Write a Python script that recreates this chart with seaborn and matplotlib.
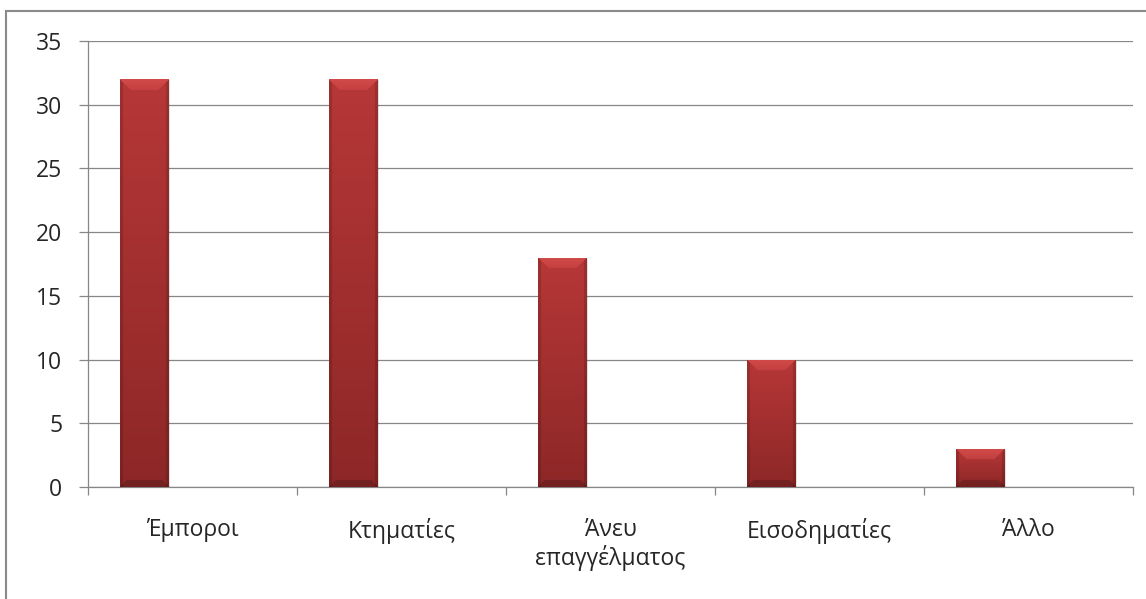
import numpy as np
import pandas as pd
import matplotlib
matplotlib.use("Agg")
import matplotlib.pyplot as plt
import seaborn as sns
from matplotlib.colors import to_rgb
from matplotlib.patches import Rectangle

# Chart data
categories = ["Έμποροι", "Κτηματίες", "Άνευ\nεπαγγέλματος", "Εισοδηματίες", "Άλλο"]
values = [32, 32, 18, 10, 3]
# Excel left room for three series per category, only the first one holds data
series = ["Σειρά 1", "Σειρά 2", "Σειρά 3"]
y_ticks = [0, 5, 10, 15, 20, 25, 30, 35]

GRID = "#878787"
TEXT = "#262626"

df = pd.DataFrame({"category": categories, "value": values, "series": series[0]})

sns.set_theme(style="white")
plt.rcParams["font.family"] = ["Open Sans", "DejaVu Sans"]

fig = plt.figure(figsize=(11.46, 5.99), dpi=100)
ax = fig.add_axes([88 / 1146, 1 - 487 / 599, (1133 - 88) / 1146, (487 - 41) / 599])

sns.barplot(
    data=df, x="category", y="value", hue="series",
    order=categories, hue_order=series, palette=["#A83030"] * 3,
    width=0.69, dodge=True, legend=False, linewidth=0, ax=ax,
)

ax.set_xlim(-0.5, len(categories) - 0.5)
ax.set_ylim(y_ticks[0], y_ticks[-1])


def bar_image(n_rows, n_cols):
    """Excel-like bevelled fill for one bar, in pixel units."""
    top, bot = np.array(to_rgb("#B73737")), np.array(to_rgb("#8D2727"))
    t = np.linspace(0, 1, n_rows)[:, None, None]
    img = top * (1 - t) + bot * t
    img = np.repeat(img, n_cols, axis=1)
    rows = np.arange(n_rows)[:, None]
    cols = np.arange(n_cols)[None, :]
    edge = np.minimum(cols, n_cols - 1 - cols)
    # light bevel on the top face
    bevel = (rows < 11) & (rows <= edge)
    shade = np.linspace(1.0, 0.0, 11)
    light = np.array(to_rgb("#D24A4A"))
    for r in range(min(11, n_rows)):
        m = bevel[r]
        img[r, m] = light * (0.55 + 0.45 * shade[r]) + img[r, m] * (0.45 - 0.45 * shade[r])
    # darker sides and bottom rim
    side = np.broadcast_to(edge < 3, (n_rows, n_cols)) & ~bevel
    img[side] = img[side] * 0.86
    brim = (rows > n_rows - 8) & (n_rows - 1 - rows <= edge)
    img[brim] = img[brim] * 0.82
    return img


px_per_unit = (487 - 41) / (y_ticks[-1] - y_ticks[0])
px_per_cat = (1133 - 88) / len(categories)
for patch in list(ax.patches):
    h = patch.get_height()
    if not h or np.isnan(h):
        continue
    x0, w = patch.get_x(), patch.get_width()
    n_rows = max(int(round(h * px_per_unit)), 2)
    n_cols = max(int(round(w * px_per_cat)), 2)
    # soft shadow on the right
    ax.add_patch(Rectangle((x0 + 2 / px_per_cat, 0), w, h - 1 / px_per_unit,
                           color="#000000", alpha=0.12, lw=0, zorder=2))
    im = ax.imshow(bar_image(n_rows, n_cols), extent=[x0, x0 + w, 0, h],
                   aspect="auto", zorder=3, interpolation="bilinear")
    im.set_clip_path(patch)
    patch.set_zorder(3)

ax.set_xlim(-0.5, len(categories) - 0.5)
ax.set_ylim(y_ticks[0], y_ticks[-1])
ax.set_yticks(y_ticks)
ax.set_yticklabels([str(v) for v in y_ticks])
ax.set_xticks(range(len(categories)))
ax.set_xticklabels(categories, linespacing=1.15)
ax.set_xticks(np.arange(-0.5, len(categories)), minor=True)
ax.set_xlabel("")
ax.set_ylabel("")

ax.yaxis.grid(True, color=GRID, linewidth=0.9)
ax.set_axisbelow(True)
for side in ["top", "right"]:
    ax.spines[side].set_visible(False)
for side in ["left", "bottom"]:
    ax.spines[side].set_color(GRID)
    ax.spines[side].set_linewidth(0.9)

ax.tick_params(axis="y", which="major", left=True, direction="out", length=6.5,
               width=0.9, color=GRID, pad=12, labelsize=16.5, labelcolor=TEXT)
ax.tick_params(axis="x", which="major", bottom=False, length=0, pad=22,
               labelsize=16.5, labelcolor=TEXT)
ax.tick_params(axis="x", which="minor", bottom=True, direction="out", length=6,
               width=0.9, color=GRID)

# outer chart border (only left and top fall inside the picture)
fig.add_artist(Rectangle((6 / 1146, -0.1), 1.2, 1.1 - 11 / 599,
                         transform=fig.transFigure, fill=False,
                         edgecolor="#8A8A8A", linewidth=1.5))

fig.savefig("out.png", dpi=100)
